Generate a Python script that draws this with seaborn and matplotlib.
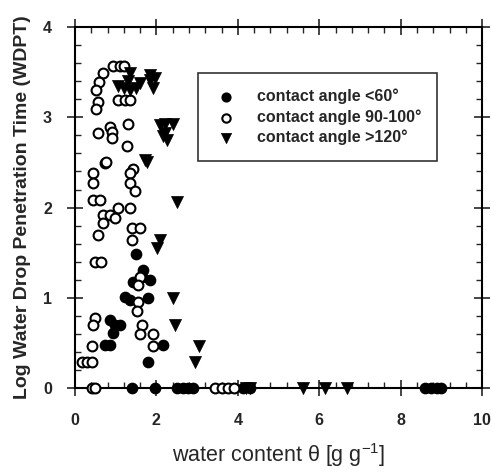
import matplotlib
matplotlib.use("Agg")
import matplotlib.pyplot as plt
import seaborn as sns
import pandas as pd
from matplotlib.ticker import MultipleLocator

# ---- data ----
low_x = [1.5, 1.67, 1.65, 1.84, 1.43, 1.23, 1.35, 1.79, 0.86, 0.98, 1.1, 0.93, 0.74, 0.86,
         2.16, 1.79, 1.4, 1.97, 2.5, 2.65, 2.78, 2.9, 4.13, 4.3, 8.6, 8.75, 8.9, 9.0]
low_y = [1.49, 1.31, 1.23, 1.2, 1.18, 1.01, 0.98, 1.0, 0.75, 0.7, 0.7, 0.61, 0.48, 0.48,
         0.48, 0.29, 0, 0, 0, 0, 0, 0, 0, 0, 0, 0, 0, 0]

mid_x = [0.94, 1.1, 1.2, 0.68, 0.6, 0.52, 0.57, 0.52, 1.06, 1.23, 1.35, 1.3, 0.86, 0.9,
         0.57, 0.9, 1.27, 0.74, 0.76, 0.45, 0.45, 1.43, 1.35, 1.35, 1.47, 0.45, 0.61, 0.69,
         0.86, 1.06, 1.35, 0.98, 0.69, 0.57, 1.4, 1.6, 1.4, 0.49, 0.64, 1.6, 1.55, 1.55,
         1.52, 0.49, 0.45, 1.65, 1.6, 1.92, 1.92, 0.41, 0.17, 0.29, 0.41, 0.42, 0.5,
         3.44, 3.6, 3.75, 3.9]
mid_y = [3.57, 3.57, 3.57, 3.49, 3.39, 3.30, 3.17, 3.09, 3.19, 3.19, 3.19, 2.93, 2.89, 2.84,
         2.83, 2.77, 2.68, 2.49, 2.51, 2.38, 2.27, 2.43, 2.38, 2.27, 2.18, 2.08, 2.08, 1.92,
         1.92, 2.0, 2.0, 1.88, 1.83, 1.7, 1.77, 1.77, 1.64, 1.4, 1.4, 1.23, 1.14, 0.96,
         0.85, 0.78, 0.7, 0.7, 0.6, 0.6, 0.47, 0.47, 0.29, 0.29, 0.29, 0, 0,
         0, 0, 0, 0]

high_x = [1.35, 1.84, 1.97, 1.84, 1.06, 1.2, 1.35, 1.5, 1.6, 1.92, 1.3, 2.09, 2.21, 2.41,
          2.21, 2.16, 2.26, 1.72, 1.77, 2.5, 2.09, 2.01, 2.4, 2.46, 3.05, 2.95,
          4.2, 4.3, 5.6, 6.14, 6.68]
high_y = [3.49, 3.47, 3.43, 3.41, 3.35, 3.33, 3.3, 3.33, 3.38, 3.32, 3.4, 2.91, 2.93, 2.93,
          2.83, 2.79, 2.75, 2.53, 2.5, 2.06, 1.64, 1.55, 1.0, 0.7, 0.47, 0.29,
          0, 0, 0, 0, 0]

labels = ["contact angle <60°", "contact angle 90-100°", "contact angle >120°"]
x_ticks = [0, 2, 4, 6, 8, 10]
y_ticks = [0, 1, 2, 3, 4]

sns.set_style("white")
plt.rcParams['font.family'] = ['Liberation Sans', 'DejaVu Sans']
plt.rcParams['mathtext.fontset'] = 'custom'
plt.rcParams['mathtext.rm'] = 'Liberation Sans'

fig = plt.figure(figsize=(4.93, 4.74), dpi=100)
ax = fig.add_axes([0.152, 0.181, 0.826, 0.762])

df_low = pd.DataFrame({"x": low_x, "y": low_y})
df_mid = pd.DataFrame({"x": mid_x, "y": mid_y})
df_high = pd.DataFrame({"x": high_x, "y": high_y})

sns.scatterplot(data=df_low, x="x", y="y", ax=ax, marker="o", s=55, color="black",
                edgecolor="black", linewidth=1.0, label=labels[0], clip_on=False, zorder=3)
sns.scatterplot(data=df_mid, x="x", y="y", ax=ax, marker="o", s=50, facecolor="white",
                edgecolor="black", linewidth=1.5, label=labels[1], clip_on=False, zorder=3)
sns.scatterplot(data=df_high, x="x", y="y", ax=ax, marker="v", s=75, color="black",
                edgecolor="black", linewidth=0.5, label=labels[2], clip_on=False, zorder=3)

ax.set_xlim(0, 10)
ax.set_ylim(0, 4)
ax.set_xticks(x_ticks)
ax.set_yticks(y_ticks)
ax.set_xticklabels([str(t) for t in x_ticks], fontweight="bold", fontsize=11.5)
ax.set_yticklabels([str(t) for t in y_ticks], fontweight="bold", fontsize=11.5)
ax.xaxis.set_minor_locator(MultipleLocator(0.4))
ax.yaxis.set_minor_locator(MultipleLocator(0.2))
ax.tick_params(which="major", direction="inout", length=11, width=1.2,
               top=True, right=True, bottom=True, left=True)
ax.tick_params(axis="x", which="major", pad=12.5)
ax.tick_params(axis="y", which="major", pad=11)
ax.tick_params(which="minor", direction="in", length=4, width=1.0,
               top=True, right=True, bottom=True, left=True)
for sp in ax.spines.values():
    sp.set_linewidth(1.5)
    sp.set_color("black")

ax.set_xlabel("water content θ [g g$^{\\mathrm{-1}}$]", fontsize=15.5, labelpad=9)
ax.set_ylabel("Log Water Drop Penetration Time (WDPT)", fontsize=14,
              fontweight="bold", labelpad=9)

leg = ax.legend(loc="upper left", bbox_to_anchor=(0.302, 0.873), borderaxespad=0,
                frameon=True, fancybox=False, edgecolor="black",
                prop={"weight": "bold", "size": 11.5},
                handlelength=1.5, handletextpad=1.2, borderpad=1.0,
                labelspacing=0.3, markerscale=0.85)
leg.get_frame().set_linewidth(1.2)

fig.savefig("out.png", dpi=100)
